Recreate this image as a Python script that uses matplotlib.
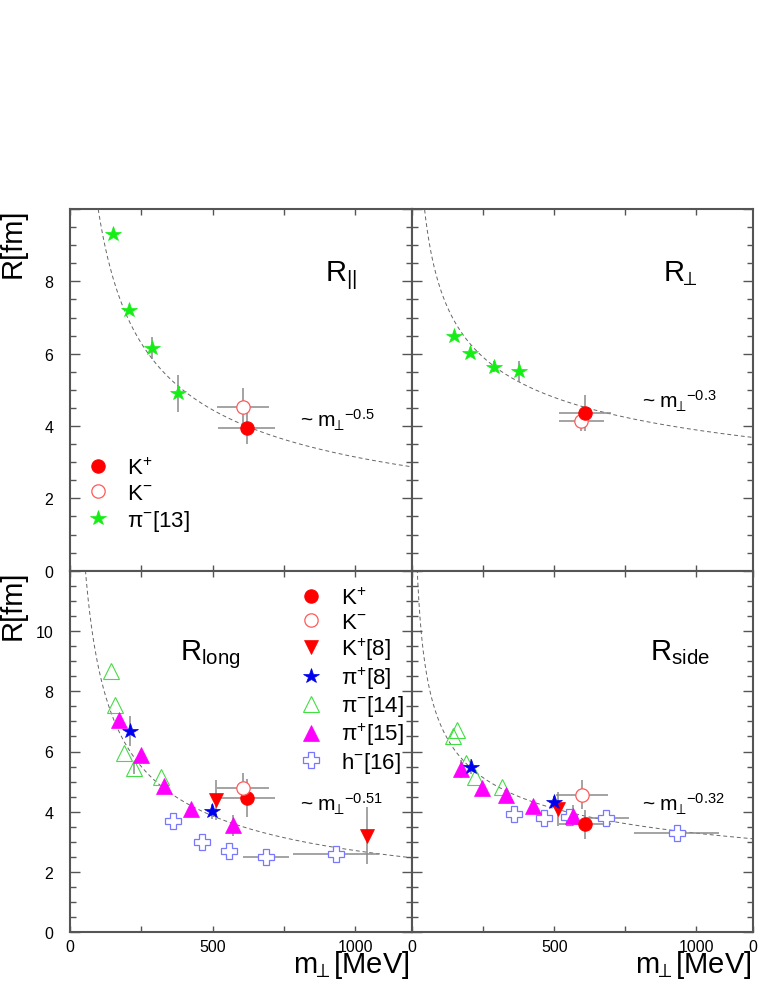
import numpy as np
import matplotlib
matplotlib.use("Agg")
import matplotlib.pyplot as plt
from matplotlib.ticker import MultipleLocator, FixedLocator

plt.rcParams['font.family'] = ['Liberation Sans', 'DejaVu Sans']
plt.rcParams['mathtext.fontset'] = 'custom'
plt.rcParams['mathtext.rm'] = 'Liberation Sans'
plt.rcParams['mathtext.it'] = 'Liberation Sans:italic'
plt.rcParams['mathtext.bf'] = 'Liberation Sans:bold'
plt.rcParams['mathtext.sf'] = 'Liberation Sans'

# ---------------- data ----------------
# R_parallel (top left)
par_pim13_x = [152, 207, 289, 380]
par_pim13_y = [9.31, 7.21, 6.15, 4.90]
par_pim13_yerr = [0, 0, 0.3, 0.5]
par_kp_x, par_kp_y, par_kp_xerr, par_kp_yerr = [620], [3.95], [100], [0.45]
par_km_x, par_km_y, par_km_xerr, par_km_yerr = [606], [4.52], [92], [0.53]

# R_perp (top right)
perp_pim13_x = [146, 203, 288, 376]
perp_pim13_y = [6.50, 6.02, 5.64, 5.51]
perp_pim13_yerr = [0, 0, 0.15, 0.3]
perp_kp_x, perp_kp_y, perp_kp_xerr, perp_kp_yerr = [607], [4.35], [92], [0.5]
perp_km_x, perp_km_y, perp_km_xerr, perp_km_yerr = [595], [4.15], [80], [0.3]

# R_long (bottom left)
long_pim14_x = [144, 158, 191, 226, 318]
long_pim14_y = [8.66, 7.55, 5.96, 5.44, 5.14]
long_pim14_yerr = [0, 0, 0, 0.2, 0]
long_pip15_x = [173, 248, 331, 423, 570]
long_pip15_y = [7.05, 5.89, 4.87, 4.09, 3.55]
long_pip15_yerr = [0, 0, 0, 0, 0.35]
long_pip8_x = [212, 498]
long_pip8_y = [6.67, 4.01]
long_pip8_yerr = [0.5, 0.25]
long_kp8_x = [511, 1041]
long_kp8_y = [4.39, 3.21]
long_kp8_yerr = [0.65, 0.95]
long_kp_x, long_kp_y, long_kp_xerr, long_kp_yerr = [620], [4.46], [100], [0.64]
long_km_x, long_km_y, long_km_xerr, long_km_yerr = [607], [4.79], [92], [0.5]
long_hm16_x = [360, 462, 559, 686, 933]
long_hm16_y = [3.70, 2.99, 2.70, 2.50, 2.61]
long_hm16_xerr = [0, 0, 0, 80, 152]

# R_side (bottom right)
side_pim14_x = [142, 156, 189, 220, 314]
side_pim14_y = [6.50, 6.72, 5.61, 5.17, 4.83]
side_pip15_x = [170, 244, 329, 423, 565]
side_pip15_y = [5.41, 4.78, 4.56, 4.20, 3.87]
side_pip15_yerr = [0.3, 0, 0, 0, 0.35]
side_pip8_x = [205, 497]
side_pip8_y = [5.50, 4.31]
side_pip8_yerr = [0.25, 0.2]
side_kp8_x = [512]
side_kp8_y = [4.09]
side_kp8_yerr = [0.55]
side_kp_x, side_kp_y, side_kp_xerr, side_kp_yerr = [607], [3.58], [92], [0.47]
side_km_x, side_km_y, side_km_xerr, side_km_yerr = [596], [4.57], [91], [0.47]
side_hm16_x = [357, 464, 553, 683, 931]
side_hm16_y = [3.94, 3.80, 3.81, 3.80, 3.31]
side_hm16_xerr = [0, 0, 0, 80, 150]

# power-law guide curves  R = A * m^-p
fit_amp = {'par': 99.4, 'perp': 30.9, 'long': 91.9, 'side': 30.0}
fit_pow = {'par': 0.5, 'perp': 0.3, 'long': 0.51, 'side': 0.32}
fit_label = {'par': '0.5', 'perp': '0.3', 'long': '0.51', 'side': '0.32'}

# labels
lab_kp = r'K$^{+}$'
lab_km = r'K$^{-}$'
lab_pim13 = r'π$^{-}$[13]'
lab_kp8 = r'K$^{+}$[8]'
lab_pip8 = r'π$^{+}$[8]'
lab_pim14 = r'π$^{-}$[14]'
lab_pip15 = r'π$^{+}$[15]'
lab_hm16 = r'h$^{-}$[16]'

# ---------------- styles ----------------
STY = {
    'kp': dict(marker='o', ms=9.6, mfc='#ff0000', mec='#ff0000', mew=0.8),
    'km': dict(marker='o', ms=9.6, mfc='white', mec='#ff5a5a', mew=0.9),
    'pim13': dict(marker='*', ms=11.5, mfc='#14ee14', mec='#14ee14', mew=0.5),
    'kp8': dict(marker='v', ms=10, mfc='#ff0000', mec='#ff0000', mew=0.5),
    'pip8': dict(marker='*', ms=11.5, mfc='#0000ee', mec='#0000ee', mew=0.5),
    'pim14': dict(marker='^', ms=11, mfc='none', mec='#44dd44', mew=0.8),
    'pip15': dict(marker='^', ms=11, mfc='#ff00ff', mec='#ff00ff', mew=0.5),
    'hm16': dict(marker='P', ms=11, mfc='white', mec='#7777ff', mew=0.9),
}
ECOL = '#8a8a8a'
AXCOL = '#555555'

fig = plt.figure(figsize=(7.63, 9.87), dpi=100)
L1, W1 = 70 / 763, 342.3 / 763
L2, W2 = 412.3 / 763, 341 / 763
B1, H1 = 1 - 571.7 / 987, 361.7 / 987
B2, H2 = 1 - 933.3 / 987, 361.6 / 987
ax_par = fig.add_axes([L1, B1, W1, H1])
ax_perp = fig.add_axes([L2, B1, W2, H1])
ax_long = fig.add_axes([L1, B2, W1, H2])
ax_side = fig.add_axes([L2, B2, W2, H2])

PERP = r'\!\!\perp'


def series(ax, key, x, y, label, xerr=None, yerr=None):
    x = np.asarray(x, float)
    y = np.asarray(y, float)
    if xerr is not None or yerr is not None:
        ax.errorbar(x, y, xerr=xerr, yerr=yerr, fmt='none', ecolor=ECOL,
                    elinewidth=1.1, capsize=0, zorder=2)
    h, = ax.plot(x, y, linestyle='none', label=label, zorder=3, **STY[key])
    return h


def style_axes(ax, ymax, ylabels, xlabels, xlabel_list=None):
    ax.set_xlim(0, 1200)
    ax.set_ylim(0, ymax)
    for s in ax.spines.values():
        s.set_color(AXCOL)
        s.set_linewidth(1.5)
    ax.yaxis.set_major_locator(MultipleLocator(2))
    ax.yaxis.set_minor_locator(MultipleLocator(0.5))
    ax.xaxis.set_minor_locator(MultipleLocator(250))
    ax.tick_params(which='both', direction='in', top=True, right=True,
                   color=AXCOL, width=1.0, labelsize=11.5)
    ax.tick_params(axis='y', which='major', length=7.2, pad=12)
    ax.tick_params(axis='y', which='minor', length=4.3)
    ax.tick_params(axis='x', which='both', length=4.3, pad=5)
    if xlabel_list is not None:
        ax.xaxis.set_major_locator(FixedLocator([v for v, _ in xlabel_list]))
        ax.set_xticklabels([t for _, t in xlabel_list])
    if not xlabels:
        ax.tick_params(axis='x', labelbottom=False)
    if ylabels:
        yt = np.arange(0, ymax + 0.1, 2)
        ax.set_yticks(yt)
        ax.set_yticklabels([('%d' % v) if v < ymax else '' for v in yt])
    else:
        ax.tick_params(axis='y', labelleft=False)


def guide(ax, key):
    xs = np.linspace(5, 1200, 600)
    ax.plot(xs, fit_amp[key] * xs ** (-fit_pow[key]), color='#666666',
            lw=0.7, ls=(0, (4, 3)), zorder=1)


# --- R_parallel
guide(ax_par, 'par')
h1 = series(ax_par, 'kp', par_kp_x, par_kp_y, lab_kp, par_kp_xerr, par_kp_yerr)
h2 = series(ax_par, 'km', par_km_x, par_km_y, lab_km, par_km_xerr, par_km_yerr)
h3 = series(ax_par, 'pim13', par_pim13_x, par_pim13_y, lab_pim13, None, par_pim13_yerr)
ax_par.legend(handles=[h1, h2, h3], loc='upper left', bbox_to_anchor=(0.05, 0.313),
              frameon=False, fontsize=16, handlelength=1.0, handletextpad=0.8,
              labelspacing=0.18, borderpad=0, borderaxespad=0)

# --- R_perp
guide(ax_perp, 'perp')
series(ax_perp, 'km', perp_km_x, perp_km_y, lab_km, perp_km_xerr, perp_km_yerr)
series(ax_perp, 'kp', perp_kp_x, perp_kp_y, lab_kp, perp_kp_xerr, perp_kp_yerr)
series(ax_perp, 'pim13', perp_pim13_x, perp_pim13_y, lab_pim13, None, perp_pim13_yerr)

# --- R_long
guide(ax_long, 'long')
hl = []
hl.append(series(ax_long, 'kp', long_kp_x, long_kp_y, lab_kp, long_kp_xerr, long_kp_yerr))
hl.append(series(ax_long, 'km', long_km_x, long_km_y, lab_km, long_km_xerr, long_km_yerr))
hl.append(series(ax_long, 'kp8', long_kp8_x, long_kp8_y, lab_kp8, None, long_kp8_yerr))
hl.append(series(ax_long, 'pip8', long_pip8_x, long_pip8_y, lab_pip8, None, long_pip8_yerr))
hl.append(series(ax_long, 'pim14', long_pim14_x, long_pim14_y, lab_pim14, None, long_pim14_yerr))
hl.append(series(ax_long, 'pip15', long_pip15_x, long_pip15_y, lab_pip15, None, long_pip15_yerr))
hl.append(series(ax_long, 'hm16', long_hm16_x, long_hm16_y, lab_hm16, long_hm16_xerr, None))
ax_long.legend(handles=hl, loc='upper left', bbox_to_anchor=(0.672, 0.953),
               frameon=False, fontsize=16, handlelength=1.0, handletextpad=0.85,
               labelspacing=0.115, borderpad=0, borderaxespad=0)

# --- R_side
guide(ax_side, 'side')
series(ax_side, 'pim14', side_pim14_x, side_pim14_y, lab_pim14)
series(ax_side, 'hm16', side_hm16_x, side_hm16_y, lab_hm16, side_hm16_xerr, None)
series(ax_side, 'pip15', side_pip15_x, side_pip15_y, lab_pip15, None, side_pip15_yerr)
series(ax_side, 'km', side_km_x, side_km_y, lab_km, side_km_xerr, side_km_yerr)
series(ax_side, 'kp', side_kp_x, side_kp_y, lab_kp, side_kp_xerr, side_kp_yerr)
series(ax_side, 'kp8', side_kp8_x, side_kp8_y, lab_kp8, None, side_kp8_yerr)
series(ax_side, 'pip8', side_pip8_x, side_pip8_y, lab_pip8, None, side_pip8_yerr)

# axes styling
style_axes(ax_par, 10, True, False, xlabel_list=[(0, ''), (500, ''), (1000, '')])
style_axes(ax_perp, 10, False, False, xlabel_list=[(0, ''), (500, ''), (1000, '')])
style_axes(ax_long, 12, True, True,
           xlabel_list=[(0, '0'), (500, '500'), (1000, '1000')])
style_axes(ax_side, 12, False, True,
           xlabel_list=[(0, '0'), (500, '500'), (1000, '1000'), (1200, '0')])

# panel titles
ax_par.text(895, 8.02, r'R${}_{||}$', fontsize=21, ha='left', va='baseline')
ax_perp.text(882, 8.02, r'R${}_{%s}$' % PERP, fontsize=21, ha='left', va='baseline')
ax_long.text(386, 9.05, r'R${}_{\mathrm{long}}$', fontsize=21, ha='left', va='baseline')
ax_side.text(837, 9.05, r'R${}_{\mathrm{side}}$', fontsize=21, ha='left', va='baseline')

# fit annotations
for ax, key, yy in [(ax_par, 'par', 4.0), (ax_perp, 'perp', 4.52),
                    (ax_long, 'long', 4.05), (ax_side, 'side', 4.05)]:
    ax.text(807, yy, r'~ m${}_{%s}\!{}^{\mathrm{{-}%s}}$' % (PERP, fit_label[key]),
            fontsize=15, ha='left', va='baseline')

# axis titles
fig.text(12.5 / 763, 1 - 209 / 987, 'R[fm]', rotation=90, fontsize=21,
         ha='center', va='top')
fig.text(12.5 / 763, 1 - 571 / 987, 'R[fm]', rotation=90, fontsize=21,
         ha='center', va='top')
fig.text(410 / 763, 1 - 973 / 987, r'm${}_{%s}$[MeV]' % PERP, fontsize=21,
         ha='right', va='baseline')
fig.text(752 / 763, 1 - 973 / 987, r'm${}_{%s}$[MeV]' % PERP, fontsize=21,
         ha='right', va='baseline')

fig.savefig('out.png', dpi=100)
